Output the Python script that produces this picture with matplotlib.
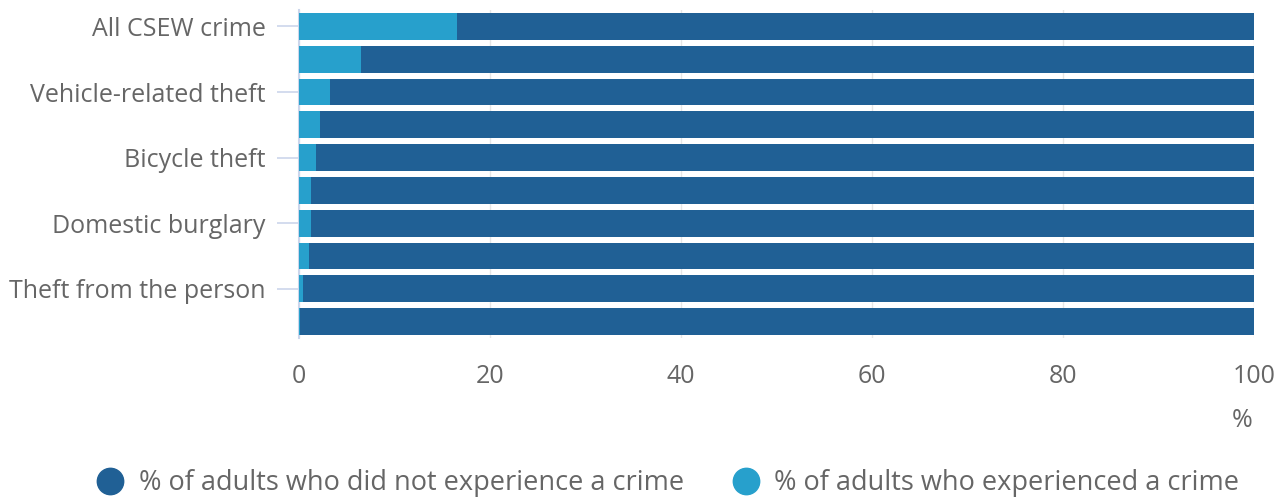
import matplotlib.pyplot as plt
from matplotlib.lines import Line2D

plt.rcParams['font.family'] = ['Open Sans', 'DejaVu Sans']

# Categories (only every other label is shown in the original)
categories = ['All CSEW crime', '', 'Vehicle-related theft', '', 'Bicycle theft',
              '', 'Domestic burglary', '', 'Theft from the person', '']
experienced = [16.5, 6.5, 3.2, 2.2, 1.75, 1.3, 1.3, 1.0, 0.4, 0.1]
not_experienced = [100 - v for v in experienced]

dark = '#206095'
light = '#27a0cc'
grey = '#666666'

fig = plt.figure(figsize=(12.82, 4.98), dpi=100)
ax = fig.add_axes([299 / 1282, 1 - 338 / 498, 955 / 1282, 328 / 498])

y = list(range(len(categories)))
ax.barh(y, experienced, height=0.82, color=light, zorder=3)
ax.barh(y, not_experienced, left=experienced, height=0.82, color=dark, zorder=3)

ax.set_xlim(0, 100)
ax.set_ylim(len(categories) - 0.5, -0.5)
ax.set_xticks([0, 20, 40, 60, 80, 100])
ax.tick_params(axis='x', length=0, labelsize=18, labelcolor=grey, pad=19)

ax.set_yticks(y)
ax.set_yticklabels(categories)
ax.tick_params(axis='y', length=16, width=1.2, color='#ccd6eb',
               labelsize=18, labelcolor=grey, pad=8)
# hide tick marks of unlabelled categories
for t, lab in zip(ax.yaxis.get_major_ticks(), categories):
    if not lab:
        t.tick1line.set_visible(False)

ax.grid(axis='x', color='#e6e6e6', linewidth=1, zorder=0)
for s in ['top', 'right', 'bottom']:
    ax.spines[s].set_visible(False)
ax.spines['left'].set_color('#ccd6eb')
ax.spines['left'].set_linewidth(1.5)

fig.text(1242 / 1282, 1 - 420 / 498, '%', fontsize=18, color=grey,
         ha='center', va='center')

handles = [Line2D([], [], marker='o', linestyle='', markersize=19, color=dark),
           Line2D([], [], marker='o', linestyle='', markersize=19, color=light)]
labels = ['% of adults who did not experience a crime',
          '% of adults who experienced a crime']
fig.legend(handles, labels, loc='center', bbox_to_anchor=(668 / 1282, 1 - 483 / 498),
           ncol=2, frameon=False, fontsize=19.5, labelcolor=grey,
           handletextpad=0.55, columnspacing=1.8, handlelength=1.0)

fig.savefig('out.png', dpi=100)
